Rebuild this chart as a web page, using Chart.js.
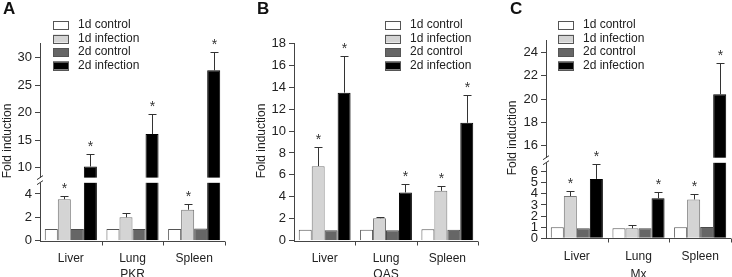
<!DOCTYPE html>
<html>
<head>
<meta charset="utf-8">
<script src="https://cdn.jsdelivr.net/npm/chart.js@4.4.1/dist/chart.umd.min.js"></script>
<style>
html, body { margin: 0; padding: 0; background: #fff; }
#wrap { position: relative; width: 732px; height: 277px; overflow: hidden; }
canvas { position: absolute; top: 0; }
</style>
</head>
<body>
<div id="wrap">
  <canvas id="pkrChart" width="245" height="277" style="left:0px"></canvas>
  <canvas id="oasChart" width="242" height="277" style="left:245px"></canvas>
  <canvas id="mxChart" width="245" height="277" style="left:487px"></canvas>
</div>
<script>
const categories = ['Liver', 'Lung', 'Spleen'];
const seriesLabels = ['1d control', '1d infection', '2d control', '2d infection'];

// PKR
const pkrControl1d = [1.0, 1.0, 1.0];
const pkrInfection1d = [3.55, 2.0, 2.65];
const pkrControl2d = [1.0, 1.0, 1.05];
const pkrInfection2d = [10.2, 16.1, 27.7];
const pkrInfection1dErr = [0.3, 0.4, 0.47];
const pkrInfection2dErr = [2.25, 3.7, 3.35];

// OAS
const oasControl1d = [1.0, 1.0, 1.05];
const oasInfection1d = [6.8, 2.05, 4.55];
const oasControl2d = [0.95, 0.95, 1.0];
const oasInfection2d = [13.5, 4.4, 10.75];
const oasInfection1dErr = [1.7, 0.1, 0.48];
const oasInfection2dErr = [3.3, 0.75, 2.55];

// Mx
const mxControl1d = [1.0, 0.9, 1.0];
const mxInfection1d = [3.8, 0.9, 3.5];
const mxControl2d = [0.9, 0.9, 1.02];
const mxInfection2d = [5.35, 3.6, 20.4];
const mxInfection1dErr = [0.5, 0.28, 0.48];
const mxInfection2dErr = [1.35, 0.6, 2.7];

// significance marks (*)
const sig1dInfection = [true, false, true];
const sig2dInfection = [true, true, true];

// tick labels
const pkrTicksLow = [0, 2, 4];
const pkrTicksHigh = [10, 15, 20, 25, 30];
const oasTicks = [0, 2, 4, 6, 8, 10, 12, 14, 16, 18];
const mxTicksLow = [0, 1, 2, 3, 4, 5, 6];
const mxTicksHigh = [16, 18, 20, 22, 24];

const fillColors = ['#ffffff', '#d4d4d4', '#666666', '#000000'];
const edgeColors = ['#555555', '#777777', '#4a4a4a', '#000000'];
const ink = '#222';
const axisColor = '#444';
const FONT = "'Liberation Sans', Arial, sans-serif";
Chart.defaults.font.family = FONT;
Chart.defaults.color = ink;

const panelPlugin = {
  id: 'panel',
  beforeDatasetDraw(chart, args) {
    // keep each copy of the bars inside its own part of the broken axis
    const ys = args.meta.yScale;
    const ctx = chart.ctx;
    ctx.save();
    ctx.beginPath();
    ctx.rect(chart.chartArea.left, ys.top, chart.chartArea.right - chart.chartArea.left, ys.bottom - ys.top);
    ctx.clip();
  },
  afterDatasetDraw(chart) {
    chart.ctx.restore();
  },
  afterDatasetsDraw(chart, args, opts) {
    const ctx = chart.ctx;
    const area = chart.chartArea;
    const low = chart.scales.yLow || chart.scales.y;
    const high = chart.scales.yHigh;

    // axis break
    if (high) {
      const gTop = high.bottom - opts.gap;
      const gBot = high.bottom;
      ctx.save();
      ctx.fillStyle = '#fff';
      ctx.fillRect(area.left - 1, gTop, area.right - area.left + 1, gBot - gTop);
      ctx.strokeStyle = '#333';
      ctx.lineWidth = 1;
      ctx.beginPath();
      ctx.moveTo(area.left - 3, gTop + 2); ctx.lineTo(area.left + 3, gTop - 2);
      ctx.moveTo(area.left - 3, gBot + 2); ctx.lineTo(area.left + 3, gBot - 2);
      ctx.stroke();
      ctx.restore();
    }

    // error bars and stars
    ctx.save();
    ctx.strokeStyle = '#333';
    ctx.lineWidth = 1;
    ctx.fillStyle = '#333';
    ctx.font = '14px ' + FONT;
    ctx.textAlign = 'center';
    ctx.textBaseline = 'alphabetic';
    opts.errors.forEach((err, s) => {
      if (!err) return;
      const meta = chart.getDatasetMeta(s);
      const values = opts.series[s];
      values.forEach((v, i) => {
        const sc = (high && v > low.max) ? high : low;
        const x = Math.round(meta.data[i].x) + 0.5;
        const y0 = sc.getPixelForValue(v);
        const y1 = Math.round(sc.getPixelForValue(v + err[i])) + 0.5;
        ctx.beginPath();
        ctx.moveTo(x, y0);
        ctx.lineTo(x, y1);
        ctx.moveTo(x - 4, y1);
        ctx.lineTo(x + 4, y1);
        ctx.stroke();
        if (opts.stars[s] && opts.stars[s][i]) {
          ctx.fillText('*', x, y1 - 3.5);
        }
      });
    });
    ctx.restore();
  },
  afterDraw(chart, args, opts) {
    const ctx = chart.ctx;
    const area = chart.chartArea;
    const xs = chart.scales.x;
    ctx.save();

    // x axis line with short tick marks between categories
    const yb = Math.round(area.bottom) + 0.5;
    const step = xs.getPixelForTick(1) - xs.getPixelForTick(0);
    ctx.strokeStyle = axisColor;
    ctx.lineWidth = 1;
    ctx.beginPath();
    ctx.moveTo(area.left, yb);
    ctx.lineTo(area.right, yb);
    for (let i = 0; i < categories.length; i++) {
      const bx = Math.round(xs.getPixelForTick(i) + step / 2) + 0.5;
      ctx.moveTo(bx, yb);
      ctx.lineTo(bx, yb + 4);
    }
    ctx.stroke();

    // panel letter
    ctx.fillStyle = '#111';
    ctx.font = 'bold 17px ' + FONT;
    ctx.textBaseline = 'top';
    ctx.textAlign = 'left';
    ctx.fillText(opts.letter, opts.letterX, 1);

    // legend
    ctx.font = '12px ' + FONT;
    ctx.textBaseline = 'middle';
    seriesLabels.forEach((lab, i) => {
      const yc = 25 + i * 13.5;
      ctx.fillStyle = fillColors[i];
      ctx.fillRect(opts.legendX, yc - 4, 16, 8);
      ctx.strokeStyle = '#555';
      ctx.strokeRect(opts.legendX + 0.5, Math.round(yc - 4) + 0.5, 15, 8);
      ctx.fillStyle = ink;
      ctx.fillText(lab, opts.legendX + 25, yc);
    });

    // y title
    ctx.translate(opts.titleX, opts.titleY);
    ctx.rotate(-Math.PI / 2);
    ctx.textAlign = 'center';
    ctx.fillText('Fold induction', 0, 0);
    ctx.restore();
  }
};

function yScale(range, ticks, width, extra) {
  return Object.assign({
    type: 'linear',
    position: 'left',
    min: range[0],
    max: range[1],
    stacked: false,
    afterFit: (s) => { s.width = width; },
    afterBuildTicks: (s) => { s.ticks = ticks.map(v => ({ value: v })); },
    grid: { drawOnChartArea: false, drawTicks: true, tickLength: 5, color: axisColor },
    border: { display: true, color: axisColor },
    ticks: { font: { size: 13 }, color: ink, padding: 3, autoSkip: false }
  }, extra || {});
}

function makePanel(p) {
  const datasets = [];
  const axes = p.high ? ['yLow', 'yHigh'] : ['y'];
  axes.forEach(ax => {
    p.series.forEach((vals, s) => {
      datasets.push({
        label: seriesLabels[s],
        data: vals,
        yAxisID: ax,
        stack: 's' + s,
        backgroundColor: fillColors[s],
        borderColor: edgeColors[s],
        borderWidth: 1,
        categoryPercentage: 0.845,
        barPercentage: 1.0
      });
    });
  });

  const scales = {
    x: {
      type: 'category',
      afterFit: (s) => { s.height = 277 - p.bottom; },
      grid: { display: false },
      border: { display: false },
      ticks: { font: { size: 12 }, color: ink, padding: 3, autoSkip: false },
      title: { display: true, text: p.gene, font: { size: 12 }, color: ink, padding: { top: 0, bottom: -5 } }
    }
  };
  if (p.high) {
    scales.yHigh = yScale(p.high.range, p.high.ticks, p.left, { stack: 'fold', stackWeight: p.high.weight, weight: 2 });
    scales.yLow = yScale(p.low.range, p.low.ticks, p.left, { stack: 'fold', stackWeight: p.low.weight, weight: 1 });
  } else {
    scales.y = yScale(p.low.range, p.low.ticks, p.left);
  }

  return new Chart(document.getElementById(p.canvas), {
    type: 'bar',
    data: { labels: categories, datasets: datasets },
    options: {
      responsive: false,
      animation: false,
      devicePixelRatio: 1,
      layout: { padding: { left: 0, right: p.padRight, top: p.top, bottom: 0 } },
      scales: scales,
      plugins: {
        legend: { display: false },
        tooltip: { enabled: false },
        panel: {
          letter: p.letter, letterX: p.letterX, legendX: p.legendX,
          titleX: p.titleX, titleY: p.titleY, gap: 5,
          series: p.series, errors: p.errors, stars: [null, sig1dInfection, null, sig2dInfection]
        }
      }
    },
    plugins: [panelPlugin]
  });
}

makePanel({
  canvas: 'pkrChart', letter: 'A', letterX: 3, gene: 'PKR',
  series: [pkrControl1d, pkrInfection1d, pkrControl2d, pkrInfection2d],
  errors: [null, pkrInfection1dErr, null, pkrInfection2dErr],
  left: 40, padRight: 20, top: 43, bottom: 240.7,
  low: { range: [0, 4.97], ticks: pkrTicksLow, weight: 58 },
  high: { range: [7.27, 32.68], ticks: pkrTicksHigh, weight: 139.4 },
  legendX: 53, titleX: 8, titleY: 141
});

makePanel({
  canvas: 'oasChart', letter: 'B', letterX: 12, gene: 'OAS',
  series: [oasControl1d, oasInfection1d, oasControl2d, oasInfection2d],
  errors: [null, oasInfection1dErr, null, oasInfection2dErr],
  left: 49, padRight: 9, top: 43.3, bottom: 240.7,
  low: { range: [0, 18], ticks: oasTicks },
  legendX: 140, titleX: 17, titleY: 141
});

makePanel({
  canvas: 'mxChart', letter: 'C', letterX: 23, gene: 'Mx',
  series: [mxControl1d, mxInfection1d, mxControl2d, mxInfection2d],
  errors: [null, mxInfection1dErr, null, mxInfection2dErr],
  left: 59, padRight: 1, top: 40.7, bottom: 238.3,
  low: { range: [0, 6.81], ticks: mxTicksLow, weight: 75.6 },
  high: { range: [14.54, 25.0], ticks: mxTicksHigh, weight: 122 },
  legendX: 71, titleX: 26, titleY: 138
});
</script>
</body>
</html>
